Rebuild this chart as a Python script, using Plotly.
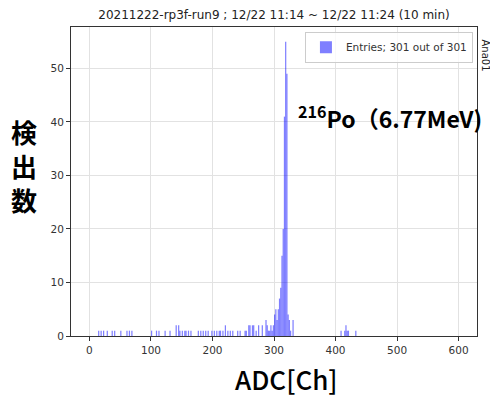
import plotly.graph_objects as go

# ---- data (histogram, bin width 2 ADC channels; only non-empty bins listed) ----
bin_width = 2
bin_left = [14, 18, 22, 28, 36, 40, 50, 60, 64, 68,
            100, 108, 112, 122, 130,
            140, 144, 146, 150, 154, 156, 160, 164,
            176, 180, 184, 188, 192, 198, 202, 206, 210, 212, 216,
            220,
            224, 228, 232, 240, 244, 252, 254,
            258, 260, 264, 266,
            270, 274,
            280, 286, 288, 290,
            292, 294, 296, 298, 300, 302, 304, 306, 308, 310, 312, 314,
            316, 318, 320, 322, 324, 326, 330,
            408, 414, 416, 418, 420, 432]
counts = [1, 1, 1, 1, 1, 1, 1, 1, 1, 1,
          1, 1, 1, 1, 1,
          2, 2, 1, 1, 1, 1, 1, 1,
          1, 1, 1, 1, 1, 1, 1, 1, 1, 1, 1,
          2,
          1, 1, 1, 1, 1, 1, 1,
          2, 2, 2, 2,
          1, 2,
          2, 3, 2, 1,
          1, 2, 1, 2, 4, 5, 3, 5, 7, 9, 15, 20,
          41, 55, 49, 4, 3, 1, 3,
          1, 1, 2, 1, 1, 1]
x_ticks = [0, 100, 200, 300, 400, 500, 600]
y_ticks = [0, 10, 20, 30, 40, 50]

title_text = "20211222-rp3f-run9 ; 12/22 11:14 ~ 12/22 11:24 (10 min)"
legend_text = "Entries; 301 out of 301"
x_label = "ADC[Ch]"
y_label = "検<br>出<br>数"
peak_label = "<sup>216</sup>Po（6.77MeV)"
side_label = "Ana01"

centers = [l + bin_width / 2 for l in bin_left]

fig = go.Figure()
fig.add_trace(go.Bar(
    x=centers, y=counts, width=bin_width,
    marker=dict(color="rgba(0,0,255,0.5)", line=dict(width=0)),
    name=legend_text, showlegend=True,
))

axis_common = dict(
    showgrid=True, gridcolor="#e2e2e2", gridwidth=1,
    showline=True, mirror=True, linecolor="#333333", linewidth=1,
    ticks="outside", ticklen=4, tickcolor="#333333",
    tickfont=dict(family="DejaVu Sans", size=10.5, color="#333333"),
    zeroline=False,
)

fig.update_layout(
    width=490, height=396, autosize=False,
    margin=dict(l=71, r=13, t=27, b=60, pad=0),
    paper_bgcolor="white", plot_bgcolor="white",
    xaxis=dict(range=[-30, 630], tickvals=x_ticks, **axis_common),
    yaxis=dict(range=[0, 57.75], tickvals=y_ticks, **axis_common),
    showlegend=True,
    legend=dict(x=0.99, xanchor="right", y=0.985, yanchor="top",
                bordercolor="#cccccc", borderwidth=1, bgcolor="rgba(255,255,255,0.8)",
                font=dict(family="DejaVu Sans", size=10.5, color="#333333")),
    title=dict(text=title_text, x=0.5, xref="paper", xanchor="center",
               y=1 - 15 / 396, yref="container", yanchor="middle",
               font=dict(family="DejaVu Sans", size=12, color="#222222")),
)

fig.add_annotation(text=peak_label, xref="paper", yref="paper",
                   x=(296 - 71) / 406, y=(336 - 117) / 309,
                   xanchor="left", yanchor="middle", showarrow=False,
                   font=dict(family="Noto Sans CJK JP", size=23, color="black", weight="bold"))
fig.add_annotation(text=y_label, xref="paper", yref="paper",
                   x=(24 - 71) / 406, y=(336 - 165) / 309,
                   xanchor="center", yanchor="middle", showarrow=False,
                   font=dict(family="Noto Sans CJK JP", size=26, color="black", weight="bold"))
fig.add_annotation(text=x_label, xref="paper", yref="paper",
                   x=(286 - 71) / 406, y=(336 - 378) / 309,
                   xanchor="center", yanchor="middle", showarrow=False,
                   font=dict(family="Noto Sans CJK JP", size=26, color="black", weight=500))
fig.add_annotation(text=side_label, xref="paper", yref="paper",
                   x=(485 - 71) / 406, y=(336 - 55.5) / 309,
                   xanchor="center", yanchor="middle", showarrow=False, textangle=90,
                   font=dict(family="DejaVu Sans", size=10, color="#222222"))

fig.write_html("out.html", config={"displayModeBar": False},
               post_script="document.body.style.margin='0';")
